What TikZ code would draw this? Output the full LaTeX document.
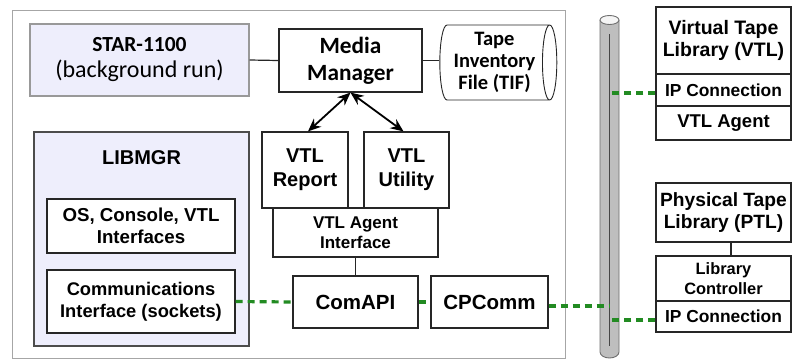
\documentclass[tikz,border=0pt]{standalone}
\usepackage{fontspec}
\setmainfont{Liberation Sans}
\newfontfamily\carlito{Carlito}
\usetikzlibrary{arrows.meta,shapes.geometric,calc}
\definecolor{lav}{RGB}{238,238,252}
\definecolor{gline}{RGB}{34,139,34}
\definecolor{pipefill}{RGB}{190,190,190}
\definecolor{pipeedge}{RGB}{110,110,110}
\begin{document}
\begin{tikzpicture}[x=1pt,y=-1pt,
  box/.style={draw=black!85, line width=1.2pt, fill=white, inner sep=0pt,
    align=center, font=\bfseries},
  fs/.style 2 args={font=\bfseries\fontsize{#1}{#2}\selectfont},
  gdash/.style={draw=gline, line width=3.2pt, dash pattern=on 7pt off 5pt},
  link/.style={draw=black!85, line width=1.2pt},
  biarrow/.style={line width=1.8pt, {Stealth[length=13pt,width=11pt]}-{Stealth[length=13pt,width=11pt]}}
]
\useasboundingbox (0,0) rectangle (793,362);

% outer host frame
\draw[gray!70, line width=1pt] (12,10) rectangle (565,358);

% top row
\node (star) [box, draw=gray!80, fill=lav, minimum width=219pt, minimum height=72pt,
  font=\carlito\fontsize{24}{26}\selectfont] at (139.5,60)
  {{\bfseries\fontsize{21.5}{26}\selectfont STAR-1100}\\(background run)};
\node (mm) [box, minimum width=143pt, minimum height=63pt,
  font=\carlito\bfseries\fontsize{23.3}{27}\selectfont] at (350.5,60.5) {Media\\Manager};
\node (tif) [cylinder, draw=black!85, line width=0.9pt, fill=white, aspect=0.24,
  minimum width=75pt, minimum height=117pt, inner sep=0pt, align=center,
  font=\carlito\bfseries\fontsize{20.5}{21.7}\selectfont] at (494.5,62.5)
  {Tape\\Inventory\\File (TIF)};
\draw[link] (star.east) -- (mm.west);
\draw[link] (mm.east) -- (mm.east -| tif.west);

% LIBMGR group
\node (lib) [box, draw=black!70, fill=lav, minimum width=215pt, minimum height=214pt] at (141.5,239) {};
\node (libtitle) [fs={20}{24}, inner sep=0pt] at (141.5,158) {LIBMGR};
\node (os) [box, fs={18.7}{22.5}, minimum width=188pt, minimum height=54pt] at (141,226)
  {OS, Console, VTL\\Interfaces};
\node (comm) [box, fs={18.3}{22}, minimum width=188pt, minimum height=63pt] at (141,301.5)
  {Communications\\Interface (sockets)};

% VTL modules
\node (vai) [box, fs={17}{20.5}, minimum width=165pt, minimum height=49pt] at (355.5,232.5)
  {VTL Agent\\Interface};
\node (rep) [box, fs={20}{24}, minimum width=86pt, minimum height=76pt] at (305,170)
  {VTL\\Report};
\node (util) [box, fs={20}{24}, minimum width=85pt, minimum height=76pt] at (406.5,170)
  {VTL\\Utility};
\node (comapi) [box, fs={20.5}{24}, minimum width=125pt, minimum height=52pt] at (355.5,302) {ComAPI};
\node (cpc) [box, fs={20.5}{24}, minimum width=117pt, minimum height=52pt] at (489.5,302) {CPComm};

\draw[biarrow] ([xshift=3pt]rep.north) -- (mm.south);
\draw[biarrow] ([xshift=-3pt]util.north) -- (mm.south);
\draw[link] (vai.south) -- (comapi.north);

% network pipe
\fill[pipefill] (600,20) -- (600,352) arc[start angle=180, end angle=360, x radius=9.5pt, y radius=6pt]
  -- (619,20) -- cycle;
\draw[pipeedge, line width=0.9pt] (600,20) -- (600,352) arc[start angle=180, end angle=360, x radius=9.5pt, y radius=6pt]
  -- (619,20);
\draw[pipeedge, line width=0.9pt, fill=white!92!gray] (609.5,20) ellipse[x radius=9.5pt, y radius=4.5pt];
\draw[gray!55!black, line width=1.3pt] (609.5,34) -- (609.5,346);
\coordinate (pipe) at (609.5,190);

% remote libraries
\node (vtl) [box, fs={19.5}{22}, minimum width=135pt, minimum height=67pt] at (723.5,40.5)
  {Virtual Tape\\Library (VTL)};
\node (vip) [box, fs={17.4}{21}, minimum width=135pt, minimum height=32pt] at (723.5,90) {IP Connection};
\node (vag) [box, fs={18.5}{22}, minimum width=135pt, minimum height=34pt] at (723.5,123) {VTL Agent};

\node (ptl) [box, fs={19.2}{22}, minimum width=135pt, minimum height=59pt] at (723.5,212.5)
  {Physical Tape\\Library (PTL)};
\node (lc) [box, fs={16.4}{20.5}, minimum width=135pt, minimum height=45pt] at (723.5,278.5)
  {Library\\Controller};
\node (pip) [box, fs={17.4}{21}, minimum width=135pt, minimum height=31pt] at (723.5,316.5) {IP Connection};
\draw[link] ([xshift=7.5pt]ptl.south) -- ([xshift=7.5pt]lc.north);

% network links
\draw[gdash] (comm.east) -- (comapi.west);
\draw[gdash] (comapi.east) -- (cpc.west);
\draw[gdash] ([yshift=-4pt]cpc.east) -- ([yshift=-4pt]cpc.east -| pipe);
\draw[gdash] ([yshift=-3pt]vip.west) -- ([yshift=-3pt]vip.west -| pipe);
\draw[gdash] ([yshift=-3.5pt]pip.west) -- ([yshift=-3.5pt]pip.west -| pipe);
\end{tikzpicture}
\end{document}
